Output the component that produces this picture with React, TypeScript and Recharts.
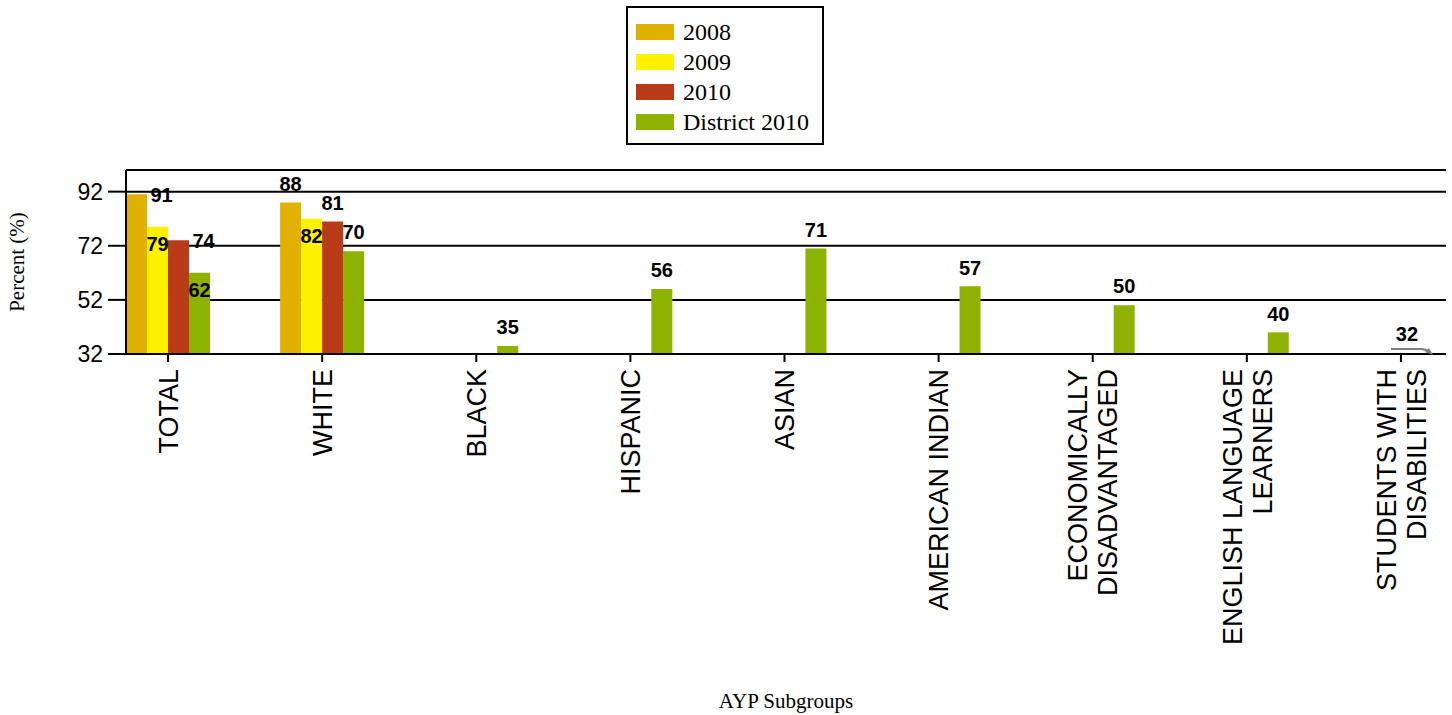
import React from 'react';
import { BarChart, Bar, XAxis, YAxis, CartesianGrid, LabelList, ReferenceDot } from 'recharts';

const categories = [
  'TOTAL',
  'WHITE',
  'BLACK',
  'HISPANIC',
  'ASIAN',
  'AMERICAN INDIAN',
  'ECONOMICALLY\nDISADVANTAGED',
  'ENGLISH LANGUAGE\nLEARNERS',
  'STUDENTS WITH\nDISABILITIES',
];
const values2008: (number | null)[] = [91, 88, null, null, null, null, null, null, null];
const values2009: (number | null)[] = [79, 82, null, null, null, null, null, null, null];
const values2010: (number | null)[] = [74, 81, null, null, null, null, null, null, null];
const district2010: (number | null)[] = [62, 70, 35, 56, 71, 57, 50, 40, 32];
const yTicks = [32, 52, 72, 92];
const seriesKeys = ['y2008', 'y2009', 'y2010', 'district'];
const seriesNames = ['2008', '2009', '2010', 'District 2010'];
const seriesColors = ['#E1B100', '#FFF100', '#B93B17', '#8DB200'];

// label placement style (not data)
const labelPlacement: Record<string, string[]> = {
  y2008: ['right', 'above'],
  y2009: ['inside', 'inside'],
  y2010: ['right', 'above'],
  district: ['inside', 'above', 'above', 'above', 'above', 'above', 'above', 'above', 'none'],
};

const data = categories.map((name, i) => ({
  name,
  y2008: values2008[i],
  y2009: values2009[i],
  y2010: values2010[i],
  district: district2010[i],
}));

const SANS = '"Liberation Sans", Arial, Helvetica, sans-serif';
const SERIF = '"Liberation Serif", "Times New Roman", serif';

const makeLabel = (key: string) => (props: any) => {
  const { x, y, width, value, index } = props;
  if (value == null || x == null || y == null) return null;
  const place = labelPlacement[key]?.[index] ?? 'above';
  if (place === 'none') return null;
  const bx = Number(x);
  const by = Number(y);
  const w = Number(width);
  let cx = bx + w / 2;
  let cy = by - 19;
  if (place === 'inside') cy = by + 17;
  if (place === 'right') {
    cx = bx + w * 1.5 + 4;
    cy = by;
  }
  return (
    <text
      x={cx}
      y={cy}
      dy="0.36em"
      textAnchor="middle"
      fontFamily={SANS}
      fontWeight="bold"
      fontSize={20}
      fill="#000"
    >
      {value}
    </text>
  );
};

const lastIdx = categories.length - 1;

const BaselineMarker = (props: any) => {
  const cx = Number(props.cx);
  const cy = Number(props.cy);
  if (!isFinite(cx) || !isFinite(cy)) return null;
  return (
    <g>
      <path
        d={`M${cx - 10},${cy - 5} L${cx + 20},${cy - 5} Q${cx + 25},${cy - 5} ${cx + 28},${cy - 2}`}
        stroke="#808080"
        strokeWidth={2}
        fill="none"
      />
      <path d={`M${cx + 24},${cy - 2} L${cx + 32},${cy + 1} L${cx + 28},${cy - 6} Z`} fill="#808080" />
      <text
        x={cx + 6}
        y={cy - 20}
        dy="0.36em"
        textAnchor="middle"
        fontFamily={SANS}
        fontWeight="bold"
        fontSize={20}
        fill="#000"
      >
        {district2010[lastIdx]}
      </text>
    </g>
  );
};

const XTick = (props: any) => {
  const { x, y, payload } = props;
  const lines = String(payload.value).split('\n');
  const fs = 27;
  const lh = 30;
  const n = lines.length;
  return (
    <g transform={`translate(${x},${y})`}>
      <text transform="rotate(-90)" textAnchor="end" fontFamily={SANS} fontSize={fs} fill="#000">
        {lines.map((l, i) => (
          <tspan key={i} x={0} y={(i - (n - 1) / 2) * lh + fs * 0.36}>
            {l}
          </tspan>
        ))}
      </text>
    </g>
  );
};

export default function App() {
  return (
    <div style={{ position: 'absolute', left: 0, top: 0, width: 1452, height: 715, background: '#fff' }}>
      <BarChart
        width={1452}
        height={715}
        data={data}
        margin={{ top: 170, right: 6, bottom: 0, left: 0 }}
        barGap={0}
        barSize={21}
      >
        <CartesianGrid vertical={false} stroke="#000" strokeWidth={2} />
        <XAxis
          dataKey="name"
          height={361}
          interval={0}
          padding={{ left: -35, right: -32 }}
          tick={<XTick />}
          tickSize={8}
          tickMargin={7}
          tickLine={{ stroke: '#000', strokeWidth: 2 }}
          axisLine={{ stroke: '#000', strokeWidth: 2 }}
        />
        <XAxis
          xAxisId="top"
          dataKey="name"
          orientation="top"
          height={0}
          tick={false}
          tickLine={false}
          axisLine={{ stroke: '#000', strokeWidth: 2 }}
        />
        <YAxis
          width={126}
          domain={[32, 100]}
          ticks={yTicks}
          interval={0}
          tickSize={18}
          tickMargin={5}
          tick={{ fontFamily: SANS, fontSize: 23, fill: '#000' }}
          tickLine={{ stroke: '#000', strokeWidth: 2 }}
          axisLine={{ stroke: '#000', strokeWidth: 2 }}
        />
        <YAxis
          yAxisId="right"
          orientation="right"
          width={0}
          tick={false}
          tickLine={false}
          axisLine={{ stroke: '#000', strokeWidth: 2 }}
        />
        {seriesKeys.map((k, i) => (
          <Bar key={k} dataKey={k} name={seriesNames[i]} fill={seriesColors[i]} isAnimationActive={false}>
            <LabelList dataKey={k} content={makeLabel(k)} />
          </Bar>
        ))}
        <ReferenceDot
          x={categories[lastIdx]}
          y={district2010[lastIdx] as number}
          r={1}
          shape={<BaselineMarker />}
        />
      </BarChart>
      <div
        style={{
          position: 'absolute',
          left: 17,
          top: 262,
          transform: 'translate(-50%, -50%) rotate(-90deg)',
          fontFamily: SERIF,
          fontSize: 21,
          whiteSpace: 'nowrap',
          color: '#000',
        }}
      >
        Percent (%)
      </div>
      <div
        style={{
          position: 'absolute',
          left: 786,
          top: 701,
          transform: 'translate(-50%, -50%)',
          fontFamily: SERIF,
          fontSize: 21,
          whiteSpace: 'nowrap',
          color: '#000',
        }}
      >
        AYP Subgroups
      </div>
      <div
        style={{
          position: 'absolute',
          left: 626,
          top: 6,
          width: 198,
          height: 139,
          boxSizing: 'border-box',
          border: '2px solid #000',
          background: '#fff',
          paddingTop: 9,
          paddingLeft: 8,
        }}
      >
        {seriesNames.map((n, i) => (
          <div key={n} style={{ display: 'flex', alignItems: 'center', height: 30 }}>
            <div style={{ width: 38, height: 16, background: seriesColors[i], marginRight: 9 }} />
            <span style={{ fontFamily: SERIF, fontSize: 24, color: '#000', lineHeight: '30px' }}>{n}</span>
          </div>
        ))}
      </div>
    </div>
  );
}
